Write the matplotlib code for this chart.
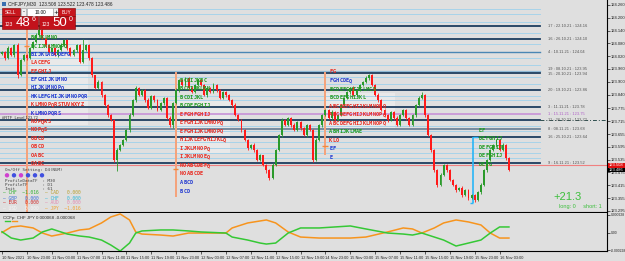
import matplotlib
matplotlib.use("Agg")
import matplotlib.pyplot as plt
from matplotlib.patches import Rectangle, Circle
import numpy as np

W, H = 625, 261
BG = "#dfdfdf"
GREEN = "#2b9a2b"
RED = "#ff1a1a"
SANS = "Liberation Sans"

# ---- M30 candles, CHFJPY ----
first_open = 124.030
closes = [124.039, 124.011, 124.058, 124.025, 124.072, 123.931, 124.002, 124.025,
          124.011, 124.058, 124.086, 124.119, 124.142, 124.105, 124.072, 124.039,
          124.058, 124.025, 124.049, 124.072, 124.096, 124.058, 124.025, 124.049,
          124.072, 123.992, 124.049, 124.072, 124.011, 123.931, 123.871, 123.899,
          123.838, 123.791, 123.744, 123.721, 123.533, 123.580, 123.603, 123.627,
          123.674, 123.744, 123.814, 123.871, 123.838, 123.861, 123.814, 123.777,
          123.833, 123.814, 123.767, 123.800, 123.824, 123.730, 123.697, 123.800,
          123.861, 123.908, 123.885, 123.917, 123.871, 123.852, 123.885, 123.908,
          123.885, 123.838, 123.871, 123.852, 123.885, 123.861, 123.824, 123.852,
          123.838, 123.814, 123.791, 123.744, 123.721, 123.674, 123.627, 123.589,
          123.603, 123.580, 123.533, 123.556, 123.510, 123.486, 123.449, 123.510,
          123.580, 123.650, 123.721, 123.697, 123.730, 123.697, 123.674, 123.711,
          123.683, 123.650, 123.697, 123.674, 123.533, 123.627, 123.697, 123.744,
          123.767, 123.730, 123.758, 123.721, 123.744, 123.791, 123.824, 123.852,
          123.871, 123.838, 123.861, 123.885, 123.899, 123.917, 123.931, 123.885,
          123.838, 123.814, 123.767, 123.744, 123.721, 123.758, 123.730, 123.697,
          123.744, 123.767, 123.730, 123.697, 123.744, 123.791, 123.824, 123.838,
          123.744, 123.650, 123.580, 123.486, 123.416, 123.463, 123.510, 123.486,
          123.439, 123.416, 123.392, 123.402, 123.369, 123.392, 123.355, 123.369,
          123.346, 123.383, 123.416, 123.486, 123.533, 123.580, 123.603, 123.627,
          123.580, 123.603, 123.542, 123.486]
# wick lengths in points (0.001)
upper_wick = [6, 4, 8, 3, 5, 10, 4, 6, 3, 7, 5, 8, 21, 4, 6, 3, 7, 5, 4, 8,
              6, 3, 5, 7, 4, 6, 53, 5, 4, 6, 3, 8, 5, 4, 7, 6, 5, 9, 4, 6,
              5, 8, 4, 7, 5, 6, 3, 8, 5, 4, 6, 7, 5, 4, 8, 6, 9, 5, 7, 4,
              6, 8, 5, 3, 7, 4, 6, 5, 8, 4, 5, 7, 3, 6, 4, 8, 5, 6, 4, 7,
              5, 9, 4, 6, 3, 7, 5, 8, 6, 4, 7, 5, 6, 4, 8, 5, 3, 7, 6, 4,
              5, 8, 6, 4, 7, 5, 9, 4, 6, 5, 3, 7, 6, 8, 5, 4, 7, 12, 6, 5,
              4, 8, 5, 7, 3, 6, 5, 8, 4, 6, 5, 7, 4, 6, 8, 12, 3, 7, 4, 6,
              5, 8, 6, 4, 7, 5, 6, 4, 8, 5, 7, 4, 6, 5, 8, 6, 7, 5, 4, 6,
              5, 8, 4, 6]
lower_wick = [5, 7, 4, 6, 8, 12, 5, 3, 7, 4, 6, 5, 8, 4, 7, 5, 6, 3, 8, 5,
              4, 7, 6, 5, 8, 4, 6, 5, 7, 9, 5, 6, 8, 4, 7, 5, 10, 49, 6, 5,
              4, 7, 5, 8, 6, 4, 7, 5, 6, 8, 5, 4, 7, 6, 9, 12, 5, 7, 4, 6,
              8, 5, 6, 4, 7, 5, 8, 6, 4, 7, 5, 6, 8, 4, 7, 5, 6, 9, 5, 7,
              4, 8, 6, 5, 7, 12, 9, 6, 5, 4, 7, 6, 5, 8, 4, 6, 7, 5, 8, 4,
              8, 6, 5, 7, 4, 6, 8, 5, 7, 4, 6, 5, 8, 4, 7, 6, 5, 4, 8, 6,
              5, 7, 6, 4, 8, 5, 7, 6, 4, 5, 8, 6, 5, 7, 4, 6, 9, 5, 8, 10,
              7, 6, 5, 8, 6, 4, 7, 5, 9, 6, 8, 5, 10, 6, 7, 5, 8, 6, 5, 7,
              6, 4, 8, 6]

price_ticks = [124.260, 124.200, 124.140, 124.080, 124.020, 123.960, 123.900,
               123.840, 123.775, 123.715, 123.655, 123.595, 123.535, 123.475,
               123.415, 123.355, 123.295]

time_labels = ["10 Nov 2021", "10 Nov 23:00", "11 Nov 03:00", "11 Nov 07:00",
               "11 Nov 11:00", "11 Nov 15:00", "11 Nov 19:00", "11 Nov 23:00",
               "12 Nov 03:00", "12 Nov 07:00", "12 Nov 11:00", "12 Nov 15:00",
               "12 Nov 19:00", "14 Nov 23:00", "15 Nov 03:00", "15 Nov 07:00",
               "15 Nov 11:00", "15 Nov 15:00", "15 Nov 19:00", "15 Nov 23:00",
               "16 Nov 03:00"]

# support / resistance levels with their tags
sr_prices = [124.16, 124.10, 124.04, 123.95, 123.94, 123.86, 123.78, 123.75,
             123.72, 123.68, 123.64, 123.52]
sr_labels = ["17 : 22.10.21 : 124.16", "16 : 26.10.21 : 124.10",
             "4 : 10.11.21 : 124.04", "19 : 08.10.21 : 123.95",
             "15 : 20.10.21 : 123.94", "20 : 19.10.21 : 123.86",
             "3 : 11.11.21 : 123.78", "1 : 15.11.21 : 123.75",
             "11 : 26.10.21 : 123.72", "8 : 08.11.21 : 123.68",
             "16 : 25.10.21 : 123.64", "9 : 16.11.21 : 123.52"]
sr_colors = ["#1d3d5e", "#1d3d5e", "#4a86b4", "#8fb8d4", "#1d3d5e", "#1d3d5e",
             "#1d3d5e", "#c58bd6", "#1d3d5e", "#6f8499", "#1d3d5e", "#1d3d5e"]
sr_widths = [1.3, 1.3, 1.0, 0.9, 1.3, 1.3, 1.3, 1.1, 1.3, 1.3, 1.3, 1.3]
sr_label_colors = ["#555", "#555", "#555", "#555", "#555", "#555",
                   "#555", "#b060c8", "#555", "#555", "#555", "#555"]
sr_label_dy = [0, 0, 0, 0.009, -0.004, 0, 0.004, -0.003, 0, 0, 0, 0]
minor_levels = [124.241, 124.217, 124.180, 124.128, 124.077, 124.011, 123.978,
                123.922, 123.889, 123.833, 123.814, 123.692, 123.669, 123.617,
                123.589, 123.566, 123.542]

bid_price = 123.508
last_price = 123.486

# daily TPO profiles
day_bars = [8, 56, 104, 152]
day_open = [124.068, 123.491, 123.599]
day_high = [124.157, 123.946, 123.946]
day_low = [123.290, 123.360, 123.557]
profile_top = [124.107, 123.908, 123.946, 123.674]
profile_step = [0.0393, 0.04, 0.04, 0.04]
profile_rows = [
    ["BCJKLMNO", "BCIJKLMNOPQ", "BIJKLABCDEFG", "LACEFG", "EFGHIJ",
     "EFGHIJKLMNO", "HIJKLMNOPQ", "HKLEFGHIJKLMNOPQR", "KLMNOPQRSTUVWXYZ",
     "KLMNOPQRS", "NOPQRS", "NOPQS", "OBCD", "OBCD", "OABC", "OABC"],
    ["BCDIJKBC", "BCDIJKLMN", "BCDIJKL", "BCDEFGHIJ", "EFGHFGHIJ",
     "EFGHIJKLMNOPQ", "EFGHIJKLMNOPQ", "HIJKLEFGHIJKLQ", "IJKLMNOPQ",
     "IJKLMNOEQ", "NOABCDEFQ", "NOABCDE", "ABCD", "BCD"],
    ["FG", "FGHCDEQ", "BCDEFGHIJKLMCD", "BCDEFGHIJKL", "ABCDEFGHIJKLMNOPQ",
     "ABCDEFGHIJKLMNOPQ", "ABCDEFGHIJKLMNOPQ", "ABHIJKLMAE", "KLO", "EF", "E"],
    ["EF", "DEFGHIJ", "DEFGHIJ", "DEFGHIJ", "DEFG"],
]
profile_colors = [
    "ggbrrbbbrbrrrrrr",
    "ggggrrrrrrrrbb",
    "rbggrrrgrbb",
    "ggggg",
]
va_high = [124.105, 123.815, 123.847]
va_low = [123.697, 123.566, 123.674]
va_bars = [(9.0, 27.7), (56.3, 73.3), (104.0, 126.4)]

# CCFp sub window
ccf_bars = [0, 3, 6, 10, 13, 16, 21, 25, 28, 32, 35, 38, 41, 43, 45, 51, 55, 60,
            64, 72, 74, 79, 83, 85, 88, 92, 96, 102, 112, 117, 124, 129, 132,
            135, 139, 142, 146, 150, 154, 157, 160, 163]
ccf_jpy = [0, 72, 85, 59, -7, -46, -7, 33, 46, 124, 202, 241, 163, 7, -20, -33,
           -46, -7, -7, -7, 59, 124, 150, 163, 124, 7, -59, -72, -72, -59, 7, 59,
           46, -7, 59, 124, 163, 137, 98, -7, -72, -72]
ccf_chf = [10, -72, -98, -72, 7, 46, -20, -46, -59, -98, -163, -241, -137, -7,
           20, 33, 33, 20, 7, -7, -59, -98, -137, -150, -137, -7, 59, 59, 85,
           46, -7, -20, -33, -7, -59, -98, -176, -137, -98, -7, 72, 72]

ohlc_open = np.array([first_open] + closes[:-1])
ohlc_close = np.array(closes)
ohlc_high = np.maximum(ohlc_open, ohlc_close) + np.array(upper_wick) * 0.001
ohlc_low = np.minimum(ohlc_open, ohlc_close) - np.array(lower_wick) * 0.001
bars = np.arange(len(closes))

fig = plt.figure(figsize=(W / 100, H / 100), dpi=100)
fig.patch.set_facecolor(BG)


def rect(x0, y0, x1, y1):
    return [x0 / W, 1 - y1 / H, (x1 - x0) / W, (y1 - y0) / H]


ax = fig.add_axes(rect(0, 0, 607, 212))
ax2 = fig.add_axes(rect(0, 213, 607, 251), sharex=ax)
for a in (ax, ax2):
    a.set_facecolor(BG)
    for s in ("left", "top"):
        a.spines[s].set_visible(False)
    for s in ("right", "bottom"):
        a.spines[s].set_color("black")
        a.spines[s].set_linewidth(0.8)
    a.yaxis.tick_right()
    a.tick_params(axis="y", length=1.8, width=0.5, pad=0.8, colors="#222")

ax.set_xlim(-2 / 3.11, 605 / 3.11)
ax.set_ylim(123.2897, 124.2834)
ax.set_yticks(price_ticks)
ax.set_yticklabels([f"{p:.3f}" for p in price_ticks], fontsize=3.0, family=SANS)
ax.tick_params(axis="x", bottom=False, labelbottom=False)
ytr = ax.get_yaxis_transform()

# value areas
for (b0, b1), hi, lo in zip(va_bars, va_high, va_low):
    ax.add_patch(Rectangle((b0, lo), b1 - b0, hi - lo, facecolor="#e9e9e9",
                           edgecolor="none", zorder=0.5))

# horizontal levels
for p in minor_levels:
    ax.axhline(p, xmax=540 / 607, color="#a8d3ea", lw=0.7, zorder=1)
for p, lab, col, lw, lc, dy in zip(sr_prices, sr_labels, sr_colors, sr_widths,
                                   sr_label_colors, sr_label_dy):
    ax.axhline(p, xmax=540 / 607, color=col, lw=lw, zorder=1.5)
    ax.text(548 / 607, p + dy, lab, transform=ytr, fontsize=2.9, color=lc,
            va="center", ha="left", family=SANS)
ax.axhline(123.72, xmin=540 / 607, color="#2f4f4f", lw=0.7, ls=(0, (4, 2, 1, 2)), zorder=1.5)
ax.text(2 / 607, 123.72 + 0.003, "#RTF_Level 123.72", transform=ytr, fontsize=3.0,
        color="#333", va="bottom", family=SANS)
ax.axhline(bid_price, color="#f08080", lw=0.8, zorder=1.6)

# day separators / profile ranges
ax.vlines(day_bars[:3], day_low, day_high, color="#f5a27a", lw=1.4, zorder=1.8)
ax.hlines(day_open, np.array(day_bars[:3]) - 1.0, np.array(day_bars[:3]) + 0.7,
          color="#f08a3c", lw=1.0, zorder=1.9)
ax.vlines(day_bars[3] - 0.4, 123.332, 123.641, color="#29b6f6", lw=1.2, zorder=1.8)
ax.hlines([123.641, 123.332], [day_bars[3] - 0.4, day_bars[3] - 1.5],
          [day_bars[3] + 1.2, day_bars[3] - 0.4], color="#29b6f6", lw=1.0, zorder=1.8)

# candles
cols = np.where(ohlc_close >= ohlc_open, GREEN, RED)
ax.vlines(bars, ohlc_low, ohlc_high, colors=cols, lw=0.6, zorder=3)
ax.bar(bars, np.maximum(np.abs(ohlc_close - ohlc_open), 0.0012),
       bottom=np.minimum(ohlc_open, ohlc_close), width=0.62, color=cols, lw=0, zorder=3)

# TPO letters, one letter per time slot
cmap = {"g": "#1f9a1f", "b": "#2038d0", "r": "#e8281e"}
for b, top, step, rows, ccode in zip(day_bars, profile_top, profile_step,
                                     profile_rows, profile_colors):
    for k, row in enumerate(rows):
        for j, ch in enumerate(row):
            ax.text(b + 1.7 + j * 1.07, top - step * k, ch, fontsize=3.8,
                    family="DejaVu Sans Mono", fontweight="bold",
                    color=cmap[ccode[k]], ha="center", va="center", zorder=4)

# CCFp panel
ax2.set_ylim(-0.0002405, 0.0002535)
ax2.set_yticks([0.000228, 0, -0.000228])
ax2.set_yticklabels(["0.000228", "0.00", "-0.000228"], fontsize=2.4, family=SANS)
ax2.plot(ccf_bars, np.array(ccf_jpy) * 1e-6, color="#f7941d", lw=1.1)
ax2.plot(ccf_bars, np.array(ccf_chf) * 1e-6, color="#35c835", lw=1.1)
ax2.set_xticks(range(0, 161, 8))
ax2.set_xticklabels(time_labels, fontsize=2.8, family=SANS)
ax2.tick_params(axis="x", length=2.5, width=0.5, pad=1, colors="#222")
for t in ax2.get_xticklabels():
    t.set_ha("left")
ax2.text(0.005, 0.92, "CCFp: CHF JPY 0.000068 -0.000068", transform=ax2.transAxes,
         fontsize=3.2, color="#222", va="top", family=SANS)

# overlay decorations in pixel coordinates
ov = fig.add_axes([0, 0, 1, 1], zorder=10)
ov.set_xlim(0, W)
ov.set_ylim(H, 0)
ov.axis("off")
ov.patch.set_alpha(0)

ov.text(8, 3.5, "CHFJPY,M30  123.508 123.522 123.478 123.486", fontsize=3.4,
        color="#222", va="center", family=SANS)
ov.add_patch(Rectangle((1.5, 1.5), 4, 4, facecolor="#3a6fb0", edgecolor="none"))

# one-click trading panel
ov.add_patch(Rectangle((2, 8), 18, 8, facecolor="#c8161d", edgecolor="#7a0000", lw=0.4))
ov.text(11, 12, "SELL", fontsize=3.4, color="white", ha="center", va="center", family=SANS)
ov.add_patch(Rectangle((21, 8), 5, 8, facecolor="#f0f0f0", edgecolor="#999", lw=0.4))
ov.text(23.5, 12, "-", fontsize=4, ha="center", va="center")
ov.add_patch(Rectangle((27, 8), 26, 8, facecolor="white", edgecolor="#999", lw=0.4))
ov.text(40, 12, "10.00", fontsize=3.4, ha="center", va="center", family=SANS)
ov.add_patch(Rectangle((53, 8), 4.5, 8, facecolor="#f0f0f0", edgecolor="#999", lw=0.4))
ov.text(55.3, 12, "+", fontsize=4, ha="center", va="center")
ov.add_patch(Rectangle((58, 8), 17, 8, facecolor="#c8161d", edgecolor="#7a0000", lw=0.4))
ov.text(66.5, 12, "BUY", fontsize=3.4, color="white", ha="center", va="center", family=SANS)
for x0, big, sup in [(2, "48", "6"), (39, "50", "0")]:
    ov.add_patch(Rectangle((x0, 16), 35.5, 13, facecolor="#c3121b", edgecolor="#7a0000", lw=0.4))
    ov.text(x0 + 3, 25, "123", fontsize=3.6, color="white", va="center", family=SANS)
    ov.text(x0 + 21, 22.8, big, fontsize=9.5, color="white", ha="center", va="center",
            family=SANS)
    ov.text(x0 + 31.5, 19.5, sup, fontsize=5, color="white", ha="center", va="center",
            family=SANS)

# info block (bottom left)
ov.text(5, 169.5, "On/Off Setting: D4(NUM)", fontsize=3.1, color="#444", va="center",
        family="DejaVu Sans Mono")
for k, c in enumerate(["#d040d0", "#4050e0", "#d040d0", "#4050e0", "#4050e0", "#4050e0"]):
    ov.add_patch(Circle((7 + 7 * k, 175.3), 2.2, facecolor=c, edgecolor="none"))
ov.text(5, 180.8, "ProfileDataTF  : M30", fontsize=3.1, color="#444", va="center",
        family="DejaVu Sans Mono")
ov.text(5, 185.5, "ProfileTF      : D1", fontsize=3.1, color="#444", va="center",
        family="DejaVu Sans Mono")
ov.text(5, 189.5, "Init           : 61", fontsize=3.1, color="#444", va="center",
        family="DejaVu Sans Mono")
cur = [(3, 193, "— CHF  ~1.016", "#2fb02f"), (45, 193, "— CAD   0.000", "#b8a030"),
       (3, 198, "— GBP   0.000", "#3b6fd8"), (45, 198, "— CHF   0.000", "#30b8d8"),
       (3, 203, "— EUR   0.000", "#d02828"), (45, 203, "— AUD   0.000", "#e28ab0"),
       (3, 208, "— USD   0.000", "#f4f4f4"), (45, 208, "— JPY  ~1.016", "#f0a030")]
for x0, y0, s, c in cur:
    ov.text(x0, y0, s, fontsize=3.3, color=c, va="center", family="DejaVu Sans Mono")

# right side P/L box
ov.text(568, 197, "+21.3", fontsize=8, color="#3cbf3c", ha="center", va="center",
        family=SANS)
ov.text(580, 206.5, "long: 0     short: 1", fontsize=4.0, color="#3cbf3c",
        ha="center", va="center", family=SANS)

# price tags on the axis
for p, c, s in [(bid_price, "#e01010", "123.508"), (last_price, "black", "123.486")]:
    yy = (124.2834 - p) / 0.0046875
    ov.add_patch(Rectangle((607.5, yy - 2.3), 17.5, 4.6, facecolor=c, edgecolor="none"))
    ov.text(609, yy, s, fontsize=3.0, color="white", va="center", family=SANS)
# legend dashes in sub window
ov.plot([5, 10], [221, 221], color="#35c835", lw=1)
ov.plot([12, 17], [221, 221], color="#f7941d", lw=1)

fig.savefig("out.png", dpi=100, facecolor=BG)
